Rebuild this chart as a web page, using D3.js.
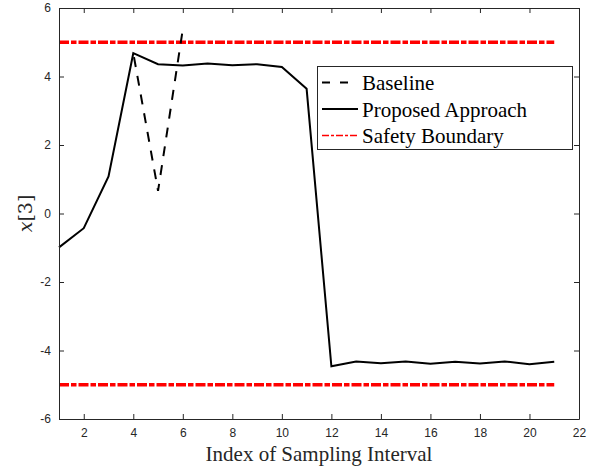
<!DOCTYPE html>
<html>
<head>
<meta charset="utf-8">
<script src="https://cdn.jsdelivr.net/npm/d3@7"></script>
<style>
  html, body { margin: 0; padding: 0; background: #fff; }
  svg { display: block; }
</style>
</head>
<body>
<svg id="chart" width="597" height="471"></svg>
<script>
// ---- data ----
const sampleIndex = [1,2,3,4,5,6,7,8,9,10,11,12,13,14,15,16,17,18,19,20,21];
const proposed = [-0.99, -0.43, 1.08, 4.68, 4.36, 4.32, 4.38, 4.33, 4.36, 4.28, 3.64, -4.46, -4.32, -4.37, -4.32, -4.39, -4.33, -4.38, -4.32, -4.40, -4.33];
const baselineIndex = [4, 5, 6];
const baseline = [4.68, 0.66, 5.38];
const boundaryLevels = [5, -5];
const boundaryRange = [1, 21];
const xTicks = [2,4,6,8,10,12,14,16,18,20,22];
const yTicks = [-6,-4,-2,0,2,4,6];
const legendLabels = ["Baseline", "Proposed Approach", "Safety Boundary"];
const xLabel = "Index of Sampling Interval";

// ---- layout ----
const svg = d3.select("#chart");
const L = 59, R = 579, T = 8, B = 419;
const axisColor = "#262626";
const x = d3.scaleLinear().domain([1, 22]).range([L, R]);
const y = d3.scaleLinear().domain([-6, 6]).range([B, T]);

// background
svg.append("rect").attr("x", L).attr("y", T).attr("width", R - L).attr("height", B - T).attr("fill", "#fff");

// clip
svg.append("clipPath").attr("id", "clip").append("rect")
  .attr("x", L).attr("y", T - 30).attr("width", R - L).attr("height", B - T + 30);

const plot = svg.append("g");

const line = d3.line().x(d => x(d[0])).y(d => y(d[1]));

// safety boundaries
boundaryLevels.forEach(v => {
  plot.append("path")
    .datum(boundaryRange.map(i => [i, v]))
    .attr("d", line)
    .attr("fill", "none")
    .attr("stroke", "#ff0000")
    .attr("stroke-width", 3.5)
    .attr("stroke-dasharray", "10,2,5.5,2");
});

// baseline
plot.append("path")
  .datum(baselineIndex.map((d, i) => [d, baseline[i]]))
  .attr("d", line)
  .attr("fill", "none")
  .attr("stroke", "#000")
  .attr("stroke-width", 2)
  .attr("stroke-dasharray", "10,9")
  .attr("stroke-dashoffset", -4);

// proposed
plot.append("path")
  .datum(sampleIndex.map((d, i) => [d, proposed[i]]))
  .attr("d", line)
  .attr("fill", "none")
  .attr("stroke", "#000")
  .attr("stroke-width", 2)
  .attr("stroke-linejoin", "miter");

// axes
const fmt = d => String(d);
const gx = svg.append("g").attr("transform", `translate(0,${B})`)
  .call(d3.axisBottom(x).tickValues(xTicks).tickFormat(fmt).tickSizeInner(-5).tickSizeOuter(0).tickPadding(9));
const gxt = svg.append("g").attr("transform", `translate(0,${T})`)
  .call(d3.axisTop(x).tickValues(xTicks).tickFormat("").tickSizeInner(-5).tickSizeOuter(0));
const gy = svg.append("g").attr("transform", `translate(${L},0)`)
  .call(d3.axisLeft(y).tickValues(yTicks).tickFormat(fmt).tickSizeInner(-5).tickSizeOuter(0).tickPadding(8));
const gyr = svg.append("g").attr("transform", `translate(${R},0)`)
  .call(d3.axisRight(y).tickValues(yTicks).tickFormat("").tickSizeInner(-5).tickSizeOuter(0));

[gx, gxt, gy, gyr].forEach(g => {
  g.select(".domain").attr("stroke", axisColor).attr("stroke-width", 1);
  g.selectAll(".tick line").attr("stroke", axisColor).attr("stroke-width", 1);
  g.selectAll(".tick text")
    .attr("fill", axisColor)
    .style("font-family", "'Liberation Sans', Arial, Helvetica, sans-serif")
    .style("font-size", "12px");
});

// axis labels
svg.append("text")
  .attr("x", (L + R) / 2).attr("y", 461)
  .attr("text-anchor", "middle")
  .style("font-family", "'Liberation Serif', 'Times New Roman', serif")
  .style("font-size", "21px")
  .attr("fill", axisColor)
  .text(xLabel);

const yl = svg.append("text")
  .attr("transform", `translate(32,${(T + B) / 2}) rotate(-90)`)
  .attr("text-anchor", "middle")
  .style("font-family", "'DejaVu Serif', 'Liberation Serif', serif")
  .style("font-size", "19px")
  .attr("fill", axisColor);
yl.append("tspan").style("font-style", "italic").text("x");
yl.append("tspan").text("[3]");

// legend
const lg = svg.append("g");
lg.append("rect")
  .attr("x", 317.5).attr("y", 66.5).attr("width", 255).attr("height", 83)
  .attr("fill", "#fff").attr("stroke", axisColor).attr("stroke-width", 1);

const legendStyles = [
  {stroke: "#000", width: 2, dash: "8,10"},
  {stroke: "#000", width: 2, dash: null},
  {stroke: "#ff0000", width: 1.5, dash: "7,2,3,2"}
];
legendLabels.forEach((lab, i) => {
  const yy = 82.5 + i * 26.5;
  const s = legendStyles[i];
  const p = lg.append("line")
    .attr("x1", 322).attr("x2", 358).attr("y1", yy).attr("y2", yy)
    .attr("stroke", s.stroke).attr("stroke-width", s.width);
  if (s.dash) p.attr("stroke-dasharray", s.dash);
  lg.append("text")
    .attr("x", 362).attr("y", yy + 7.5)
    .style("font-family", "'Liberation Serif', 'Times New Roman', serif")
    .style("font-size", "21px")
    .attr("fill", "#000")
    .text(lab);
});
</script>
</body>
</html>
